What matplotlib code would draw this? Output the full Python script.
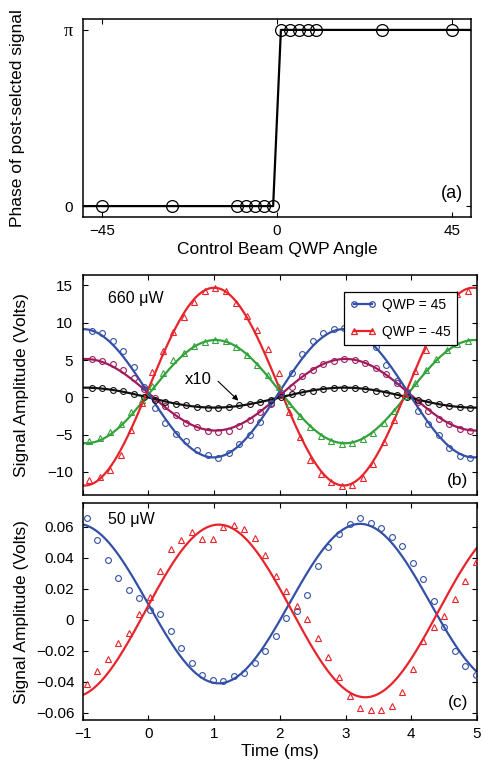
import numpy as np
import matplotlib
matplotlib.use('Agg')
import matplotlib.pyplot as plt

plt.rcParams['font.family'] = ['Liberation Sans', 'DejaVu Sans']
plt.rcParams['axes.unicode_minus'] = True

# ---------------- Panel (a) data ----------------
qwp_angle = [-45, -27, -10.2, -7.9, -5.7, -3.3, -1.0, 1.0, 3.3, 5.6, 7.9, 10.1, 27, 45]
phase = [0, 0, 0, 0, 0, 0, 0, np.pi, np.pi, np.pi, np.pi, np.pi, np.pi, np.pi]
phase_line_angle = [-50, -1.0, 1.0, 50]
phase_line_value = [0, 0, np.pi, np.pi]

# ---------------- Panel (b) data (660 uW) ----------------
t_circ_b = [-0.86, -0.70, -0.54, -0.38, -0.22, -0.06, 0.10, 0.26, 0.42, 0.58, 0.74, 0.90,
            1.06, 1.22, 1.38, 1.54, 1.70, 1.86, 2.02, 2.18, 2.34, 2.50, 2.66, 2.82,
            2.98, 3.14, 3.30, 3.46, 3.62, 3.78, 3.94, 4.10, 4.26, 4.42, 4.58, 4.74, 4.90]
t_tri_b = [-0.90, -0.74, -0.58, -0.42, -0.26, -0.10, 0.06, 0.22, 0.38, 0.54, 0.70, 0.86,
           1.02, 1.18, 1.34, 1.50, 1.66, 1.82, 1.98, 2.14, 2.30, 2.46, 2.62, 2.78,
           2.94, 3.10, 3.26, 3.42, 3.58, 3.74, 3.90, 4.06, 4.22, 4.38, 4.54, 4.70, 4.86]
blue_b = [8.9, 8.6, 7.5, 6.2, 4.0, 1.4, -1.5, -3.5, -4.9, -5.8, -7.1, -7.8,
          -8.1, -7.5, -6.2, -5.0, -3.3, -0.8, 0.6, 3.2, 5.8, 7.6, 8.6, 9.2,
          9.3, 9.1, 8.3, 6.7, 4.3, 2.2, 0.6, -1.9, -3.6, -5.0, -6.8, -7.9, -8.2]
purple_b = [5.2, 4.9, 4.5, 3.7, 2.6, 1.1, -0.1, -1.2, -2.4, -3.4, -4.0, -4.5,
            -4.6, -4.5, -3.9, -3.0, -2.0, -0.9, 0.3, 1.4, 2.8, 3.7, 4.4, 4.9,
            5.1, 5.0, 4.6, 3.9, 3.1, 1.9, 0.7, -0.6, -1.8, -2.9, -3.6, -4.2, -4.5]
black_b = [1.3, 1.2, 1.0, 0.8, 0.5, 0.1, -0.3, -0.6, -0.9, -1.1, -1.3, -1.4,
           -1.4, -1.3, -1.1, -0.9, -0.6, -0.3, 0.1, 0.4, 0.7, 0.9, 1.1, 1.3,
           1.3, 1.2, 1.1, 0.9, 0.6, 0.3, 0.0, -0.3, -0.6, -0.9, -1.2, -1.3, -1.4]
red_b = [-11.1, -10.7, -9.7, -7.8, -4.4, -0.8, 3.4, 6.2, 8.8, 10.8, 12.8, 14.3,
         14.7, 14.2, 12.7, 10.9, 9.0, 6.5, 3.2, -2.0, -5.3, -8.4, -10.3, -11.3,
         -11.9, -11.7, -10.8, -8.9, -6.0, -3.0, 0.5, 3.5, 6.4, 9.7, 12.0, 13.8, 14.3]
green_b = [-5.9, -5.4, -4.6, -3.6, -2.0, -0.3, 1.5, 3.3, 5.0, 6.0, 6.9, 7.4,
           7.7, 7.5, 6.8, 5.7, 4.3, 3.0, 1.4, -0.9, -2.5, -4.0, -5.2, -5.8,
           -6.2, -6.1, -5.6, -4.8, -3.5, -1.9, 0.2, 1.9, 3.7, 5.1, 6.4, 7.2, 7.5]
# sinusoidal fit parameters: offset, amplitude, time of max, period
fit_blue_b = (0.54, 8.6, 2.97, 3.96)
fit_red_b = (1.43, 13.26, 1.0, 3.94)
fit_green_b = (0.76, 6.92, 1.02, 3.94)
fit_purple_b = (0.34, 4.8, 3.0, 3.96)
fit_black_b = (-0.045, 1.34, 2.98, 3.96)

# ---------------- Panel (c) data (50 uW) ----------------
t_c = [-0.94, -0.78, -0.62, -0.46, -0.30, -0.14, 0.02, 0.18, 0.34, 0.50, 0.66, 0.82,
       0.98, 1.14, 1.30, 1.46, 1.62, 1.78, 1.94, 2.10, 2.26, 2.42, 2.58, 2.74,
       2.90, 3.06, 3.22, 3.38, 3.54, 3.70, 3.86, 4.02, 4.18, 4.34, 4.50, 4.66, 4.82, 4.98]
blue_c = [0.0656, 0.0514, 0.0385, 0.0273, 0.0194, 0.0138, 0.0065, 0.0041, -0.0071, -0.0183,
          -0.0280, -0.0357, -0.0389, -0.0396, -0.0363, -0.0342, -0.0280, -0.0204, -0.0105,
          0.0011, 0.0058, 0.0161, 0.0346, 0.0473, 0.0553, 0.0619, 0.0658, 0.0628, 0.0593,
          0.0538, 0.0479, 0.0370, 0.0264, 0.0120, -0.0047, -0.0198, -0.0301, -0.0359]
red_c = [-0.0415, -0.0329, -0.0252, -0.0148, -0.0086, 0.0037, 0.0146, 0.0318, 0.0460, 0.0516,
         0.0565, 0.0525, 0.0525, 0.0598, 0.0615, 0.0587, 0.0531, 0.0421, 0.0282, 0.0189,
         0.0092, 0.0004, -0.0114, -0.0243, -0.0372, -0.0492, -0.0570, -0.0581, -0.0581,
         -0.0555, -0.0467, -0.0316, -0.0138, -0.0047, 0.0028, 0.0133, 0.0252, 0.0372]
fit_blue_c = (0.0105, 0.0515, 3.22, 4.3)
fit_red_c = (0.00575, 0.05575, 1.07, 4.46)

BLUE = '#3350A6'
RED = '#E8242B'
GREEN = '#33A23A'
PURPLE = '#A01A5C'
BLACK = '#111111'

TICK_FS = 11
LABEL_FS = 12.5


def fit_curve(params, t):
    off, amp, tmax, per = params
    return off + amp * np.cos(2 * np.pi * (t - tmax) / per)


def style_axes(ax):
    for s in ax.spines.values():
        s.set_linewidth(1.1)
    ax.tick_params(direction='in', top=True, right=True, length=3.5, width=0.8,
                   labelsize=TICK_FS, pad=5)


fig = plt.figure(figsize=(4.84, 7.66), dpi=100)

# ---------- (a) ----------
axa = fig.add_axes([0.1715, 0.7163, 0.8017, 0.2593])
axa.plot(phase_line_angle, phase_line_value, color='black', lw=1.6, zorder=2)
axa.plot(qwp_angle, phase, linestyle='none', marker='o', markersize=8.5,
         markerfacecolor='none', markeredgecolor='black', markeredgewidth=0.9, zorder=3)
axa.set_xlim(-50, 50)
axa.set_ylim(-0.2, np.pi + 0.2)
axa.set_xticks([-45, 0, 45])
axa.set_xticklabels(['\u221245', '0', '45'])
axa.set_yticks([0, np.pi])
axa.set_yticklabels(['0', '\u03c0'])
style_axes(axa)
axa.tick_params(axis='y', pad=7)
pi_lbl = axa.get_yticklabels()[1]
pi_lbl.set_fontfamily(['Liberation Serif', 'DejaVu Serif'])
pi_lbl.set_fontsize(13)
axa.set_xlabel('Control Beam QWP Angle', fontsize=LABEL_FS, labelpad=3)
axa.set_ylabel('Phase of post-selcted signal', fontsize=LABEL_FS)
axa.yaxis.set_label_coords(-0.15, 0.5)
axa.text(47.9, 0.23, '(a)', ha='right', va='center', fontsize=13)

# ---------- (b) ----------
axb = fig.add_axes([0.1707, 0.3538, 0.8149, 0.2872])
tt = np.linspace(-1, 5, 400)
for pars, col in [(fit_purple_b, PURPLE), (fit_green_b, GREEN), (fit_black_b, BLACK),
                  (fit_blue_b, BLUE), (fit_red_b, RED)]:
    axb.plot(tt, fit_curve(pars, tt), color=col, lw=1.6, zorder=2)
mk = dict(linestyle='none', markerfacecolor='none', markeredgewidth=0.8, zorder=3)
axb.plot(t_circ_b, purple_b, marker='o', markersize=4.2, markeredgecolor=PURPLE, **mk)
axb.plot(t_circ_b, black_b, marker='o', markersize=4.2, markeredgecolor=BLACK, **mk)
axb.plot(t_tri_b, green_b, marker='^', markersize=4.7, markeredgecolor=GREEN, **mk)
axb.plot(t_circ_b, blue_b, marker='o', markersize=4.2, markeredgecolor=BLUE, **mk)
axb.plot(t_tri_b, red_b, marker='^', markersize=4.7, markeredgecolor=RED, **mk)
h1, = axb.plot([], [], color=BLUE, lw=1.6, marker='o', markersize=4,
               markerfacecolor='none', markeredgecolor=BLUE, markeredgewidth=0.9)
h2, = axb.plot([], [], color=RED, lw=1.6, marker='^', markersize=4.5,
               markerfacecolor='none', markeredgecolor=RED, markeredgewidth=0.9)
leg = axb.legend([h1, h2], ['QWP = 45', 'QWP = -45'], loc='upper right',
                 bbox_to_anchor=(0.967, 0.955), fontsize=10, numpoints=2,
                 handlelength=1.9, handletextpad=0.4, labelspacing=0.9,
                 borderpad=0.45, fancybox=False, framealpha=1, edgecolor='black')
leg.get_frame().set_linewidth(0.9)
leg.set_zorder(5)
axb.set_xlim(-1, 5)
axb.set_ylim(-13.1, 16.4)
axb.set_xticks([-1, 0, 1, 2, 3, 4, 5])
axb.set_xticklabels([])
axb.set_yticks([-10, -5, 0, 5, 10, 15])
style_axes(axb)
axb.tick_params(axis='y', pad=7)
axb.set_ylabel('Signal Amplitude (Volts)', fontsize=LABEL_FS)
axb.yaxis.set_label_coords(-0.135, 0.5)
axb.text(-0.61, 13.3, '660 \u03bcW', ha='left', va='center', fontsize=11.5)
axb.text(0.76, 2.35, 'x10', ha='center', va='center', fontsize=12)
axb.annotate('', xy=(1.37, -0.45), xytext=(1.06, 2.15),
             arrowprops=dict(arrowstyle='-|>', color='black', lw=0.8,
                             mutation_scale=8, shrinkA=0, shrinkB=0))
axb.text(4.86, -11.2, '(b)', ha='right', va='center', fontsize=12.5)

# ---------- (c) ----------
axc = fig.add_axes([0.1707, 0.0594, 0.8149, 0.2836])
axc.plot(tt, fit_curve(fit_blue_c, tt), color=BLUE, lw=1.6, zorder=2)
axc.plot(tt, fit_curve(fit_red_c, tt), color=RED, lw=1.6, zorder=2)
axc.plot(t_c, blue_c, marker='o', markersize=4.2, markeredgecolor=BLUE, **mk)
axc.plot(t_c, red_c, marker='^', markersize=4.7, markeredgecolor=RED, **mk)
axc.set_xlim(-1, 5)
axc.set_ylim(-0.065, 0.0753)
axc.set_xticks([-1, 0, 1, 2, 3, 4, 5])
axc.set_xticklabels(['\u22121', '0', '1', '2', '3', '4', '5'])
axc.set_yticks([-0.06, -0.04, -0.02, 0, 0.02, 0.04, 0.06])
axc.set_yticklabels(['\u22120.06', '\u22120.04', '\u22120.02', '0', '0.02', '0.04', '0.06'])
style_axes(axc)
axc.tick_params(axis='y', pad=6)
axc.set_xlabel('Time (ms)', fontsize=LABEL_FS, labelpad=2)
axc.set_ylabel('Signal Amplitude (Volts)', fontsize=LABEL_FS)
axc.yaxis.set_label_coords(-0.135, 0.5)
axc.text(-0.61, 0.0645, '50 \u03bcW', ha='left', va='center', fontsize=11.5)
axc.text(4.87, -0.0535, '(c)', ha='right', va='center', fontsize=12.5)

fig.savefig('out.png', dpi=100)
